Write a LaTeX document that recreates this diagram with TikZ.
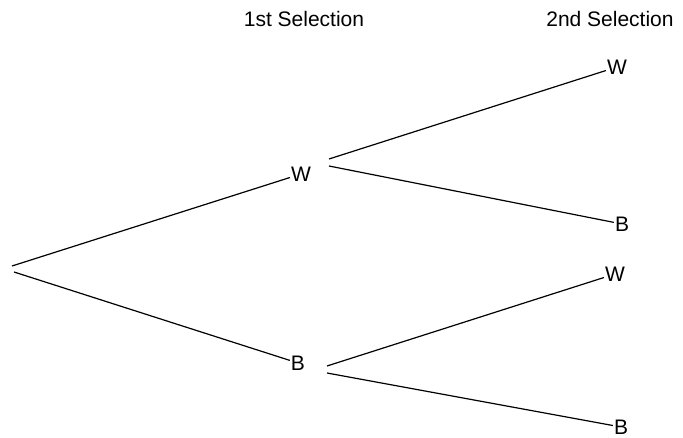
\documentclass[tikz,border=0pt]{standalone}
\usepackage{fontspec}
\setmainfont{Liberation Sans}
\begin{document}
\begin{tikzpicture}[x=1pt,y=-1pt,
  lbl/.style={inner sep=1pt,font=\fontsize{21}{24}\selectfont},
  head/.style={inner sep=0pt,font=\fontsize{21}{24}\selectfont},
  branch/.style={line width=1.2pt,black}]
\useasboundingbox (0,0) rectangle (683,438);

% column headings
\node[head] (h1) at (304,19) {1st Selection};
\node[head] (h2) at (610,19) {2nd Selection};

% outcome labels
\node[lbl] (W1) at (301,174) {W};
\node[lbl] (B1) at (298,363) {B};
\node[lbl] (WW) at (617,67) {W};
\node[lbl] (WB) at (622,224) {B};
\node[lbl] (BW) at (615,274) {W};
\node[lbl] (BB) at (621,427) {B};

% start points of the forks
\coordinate (rootA) at (12,266);
\coordinate (rootB) at (14,272);
\coordinate (W1a) at (329,159);
\coordinate (W1b) at (329,166);
\coordinate (B1a) at (327,366);
\coordinate (B1b) at (327,373);

% first selection
\draw[branch] (rootA) -- (W1);
\draw[branch] (rootB) -- (B1);

% second selection
\draw[branch] (W1a) -- (WW);
\draw[branch] (W1b) -- (WB);
\draw[branch] (B1a) -- (BW);
\draw[branch] (B1b) -- (BB);
\end{tikzpicture}
\end{document}
